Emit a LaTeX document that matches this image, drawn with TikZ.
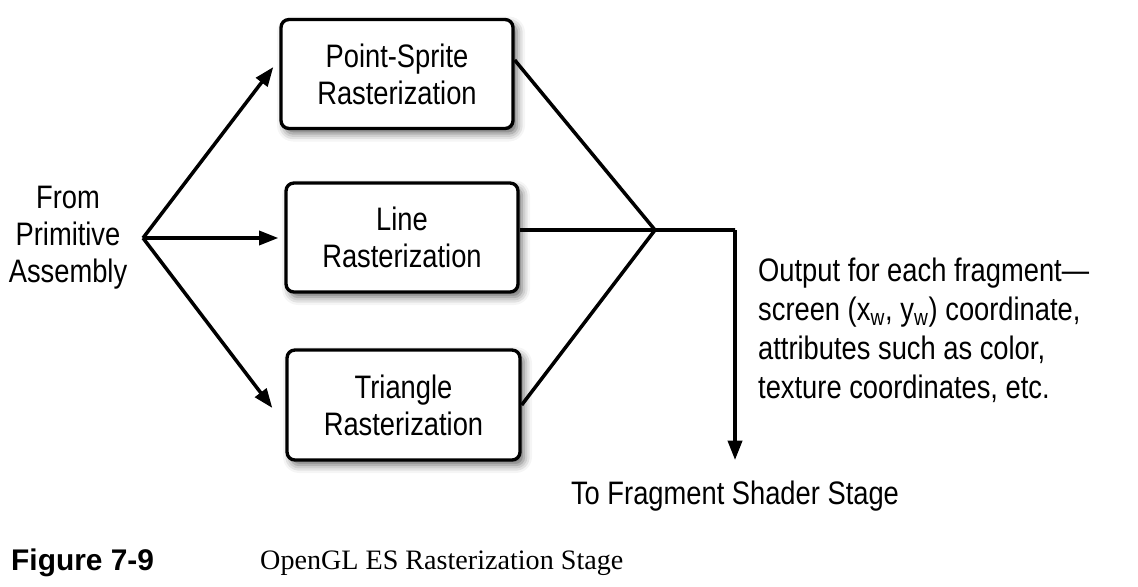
\documentclass[tikz,border=0pt]{standalone}
\usepackage{fontspec}
\setmainfont{Liberation Sans}[FakeStretch=0.84]
\newfontfamily\capsans{Liberation Sans}
\newfontfamily\capserif{Liberation Serif}
\usepackage{tikz}
\usetikzlibrary{arrows.meta,positioning,shadows.blur}

\begin{document}
\begin{tikzpicture}[every node/.style={font=\fontsize{18.5}{21}\selectfont, align=center},
    rasterbox/.style={draw, line width=1.9pt, rounded corners=.16cm, fill=white,
        minimum width=4.64cm, minimum height=2.18cm,
        blur shadow={shadow xshift=.08cm, shadow yshift=-.1cm, shadow blur radius=.16cm, shadow opacity=60}},
    flow/.style={line width=2pt},
    flowarrow/.style={line width=2pt, -{Triangle[length=11pt,width=8pt]}}]
\useasboundingbox (0,0) rectangle (22.76,-11.72);
%draw rasterizer boxes
    \node[rasterbox] (ps) at (7.94,-1.48) {Point-Sprite\\Rasterization};
    \node[rasterbox] (line) at (8.04,-4.75) {Line\\Rasterization};
    \node[rasterbox, minimum width=4.66cm, minimum height=2.2cm] (tri) at (8.07,-8.10) {Triangle\\Rasterization};
%insert input label and fork
    \node (prim) at (1.36,-4.76) {From\\Primitive\\Assembly};
    \coordinate (fork) at (2.86,-4.76);
%draw directed edges into boxes
    \draw[flowarrow] (fork) -- ([xshift=-.12cm,yshift=.14cm]ps.west);
    \draw[flowarrow] (fork) -- ([xshift=-.12cm]line.west |- fork);
    \draw[flowarrow] (fork) -- ([xshift=-.26cm,yshift=-.06cm]tri.west);
%draw merging edges
    \coordinate (join) at (13.1,-4.6);
    \coordinate (turn) at (14.7,-4.6);
    \coordinate (tip) at (14.7,-9.2);
    \draw[flow] ([yshift=.28cm]ps.east) -- (join);
    \draw[flow] (line.east |- join) -- (join);
    \draw[flow, line join=miter] (tri.east) -- (join) -- (turn);
    \draw[flowarrow] (turn) -- (tip);
    \node[below=0.3cm of tip] (shader) {To Fragment Shader Stage};
%insert output note
    \node[anchor=west, align=left, font=\fontsize{18.5}{22.2}\selectfont] (out) at (15.04,-6.61)
        {Output for each fragment---\\screen (x\textsubscript{w}, y\textsubscript{w}) coordinate,\\attributes such as color,\\texture coordinates, etc.};
%insert figure caption
    \node[anchor=west, font=\capsans\bfseries\fontsize{17}{20}\selectfont] (fig) at (0.1,-11.26) {Figure 7-9};
    \node[anchor=west, font=\capserif\fontsize{16}{20}\selectfont] (cap) at (5.08,-11.26) {OpenGL ES Rasterization Stage};
\end{tikzpicture}
\end{document}
